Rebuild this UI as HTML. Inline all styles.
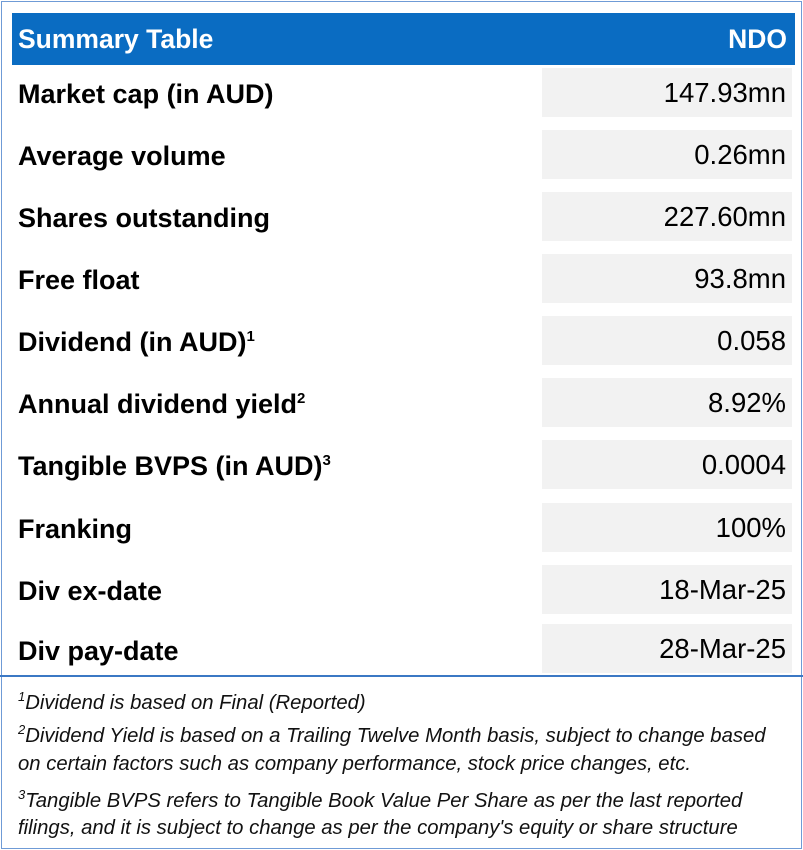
<!DOCTYPE html>
<html><head><meta charset="utf-8"><style>
body{margin:0;width:803px;height:850px;background:#fff;font-family:"Liberation Sans",sans-serif;overflow:hidden;position:relative}
.frame{position:absolute;left:1px;top:1px;width:799px;height:846px;border:1px solid #6f9bd6}
.hdr{position:absolute;left:12px;top:13px;width:783px;height:52px;background:#0a6cc2;color:#fff;font-weight:bold;font-size:26.5px}
.hdr span{position:absolute;top:11px}
.row{position:absolute;left:0;width:803px;height:62px}
.lab{position:absolute;left:18px;top:15px;font-weight:bold;font-size:27px;color:#000}
.lab sup{font-size:15px}
.val{position:absolute;left:542px;top:4px;width:250px;height:49px;background:#f2f2f2;font-size:27.5px;text-align:right;box-sizing:border-box;padding-right:6px;line-height:50px;color:#000}
.sep{position:absolute;left:0;top:675px;width:803px;height:2px;background:#3b78c4}
.fn{position:absolute;left:18px;font-style:italic;font-size:20.3px;color:#111;white-space:nowrap}
.fn sup{font-size:13px}
</style></head><body>
<div class="frame"></div>
<div class="hdr"><span style="left:6px">Summary Table</span><span style="right:8px">NDO</span></div>
<div class="row" style="top:64px"><div class="lab">Market cap (in AUD)</div><div class="val">147.93mn</div></div>
<div class="row" style="top:126px"><div class="lab">Average volume</div><div class="val">0.26mn</div></div>
<div class="row" style="top:188px"><div class="lab">Shares outstanding</div><div class="val">227.60mn</div></div>
<div class="row" style="top:250px"><div class="lab">Free float</div><div class="val">93.8mn</div></div>
<div class="row" style="top:312px"><div class="lab">Dividend (in AUD)<sup>1</sup></div><div class="val">0.058</div></div>
<div class="row" style="top:374px"><div class="lab">Annual dividend yield<sup>2</sup></div><div class="val">8.92%</div></div>
<div class="row" style="top:436px"><div class="lab">Tangible BVPS (in AUD)<sup>3</sup></div><div class="val">0.0004</div></div>
<div class="row" style="top:499px"><div class="lab">Franking</div><div class="val">100%</div></div>
<div class="row" style="top:561px"><div class="lab">Div ex-date</div><div class="val">18-Mar-25</div></div>
<div class="row" style="top:620px"><div class="lab" style="top:16px">Div pay-date</div><div class="val">28-Mar-25</div></div>
<div class="sep"></div>
<div class="fn" style="top:689px"><sup>1</sup>Dividend is based on Final (Reported)</div>
<div class="fn" style="top:722px"><sup>2</sup>Dividend Yield is based on a Trailing Twelve Month basis, subject to change based</div>
<div class="fn" style="top:753px">on certain factors such as company performance, stock price changes, etc.</div>
<div class="fn" style="top:787px"><sup>3</sup>Tangible BVPS refers to Tangible Book Value Per Share as per the last reported</div>
<div class="fn" style="top:817px">filings, and it is subject to change as per the company's equity or share structure</div>
</body></html>
